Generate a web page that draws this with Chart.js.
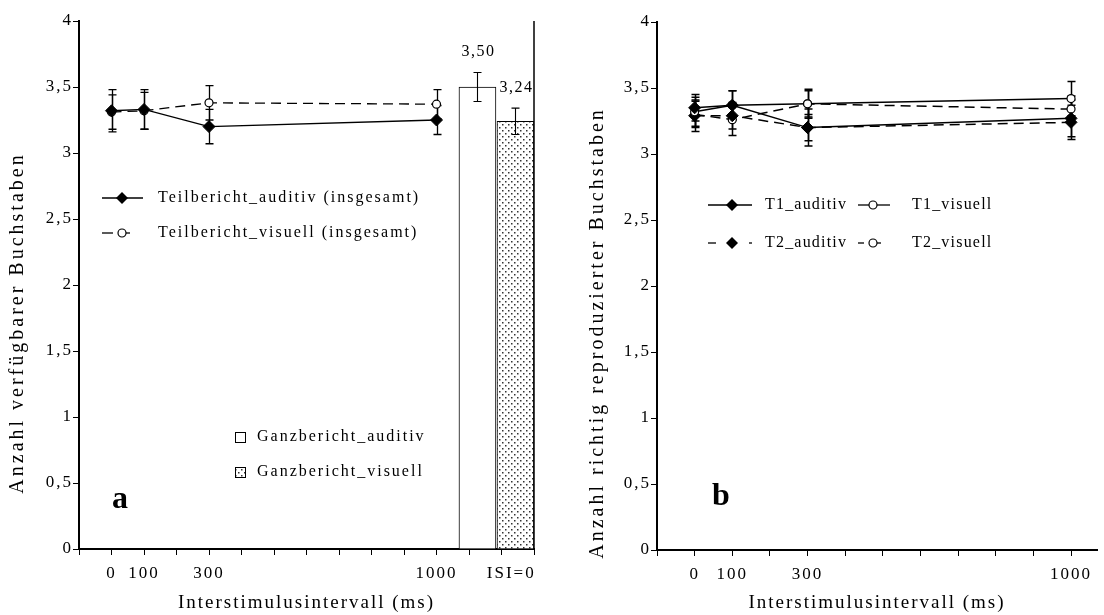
<!DOCTYPE html>
<html lang="de">
<head>
<meta charset="utf-8">
<title>Teilbericht und Ganzbericht</title>
<script src="https://cdn.jsdelivr.net/npm/chart.js@4.4.1/dist/chart.umd.min.js"></script>
<style>
  html, body { margin: 0; padding: 0; background: #fff; }
  #wrap { position: relative; width: 1104px; height: 615px; }
  .panel { position: absolute; top: 0; height: 615px; }
  #panelA { left: 0; width: 560px; }
  #panelB { left: 560px; width: 544px; }
</style>
</head>
<body>
<div id="wrap">
  <div class="panel" id="panelA"><canvas id="chartA"></canvas></div>
  <div class="panel" id="panelB"><canvas id="chartB"></canvas></div>
</div>
<script>
// Interstimulusintervalle (ms)
const isiWerte = [0, 100, 300, 1000];

// Abbildung a: Teilbericht (Linien) und Ganzbericht (Balken)
const teilAuditiv = [3.32, 3.33, 3.20, 3.25];
const teilAuditivFehler = [0.16, 0.15, 0.13, 0.11];
const teilVisuell = [3.31, 3.32, 3.38, 3.37];
const teilVisuellFehler = [0.13, 0.14, 0.13, 0.11];
const ganzLabels = ["Ganzbericht_auditiv", "Ganzbericht_visuell"];
const ganzWerte = [3.5, 3.24];
const ganzFehler = [0.11, 0.1];
const ganzX = [1126, 1243]; // Lage der ISI=0-Balken auf der x-Achse

// Abbildung b: T1 / T2
const t1Auditiv = [3.35, 3.37, 3.2, 3.27];
const t1AuditivFehler = [0.1, 0.11, 0.14, 0.14];
const t1Visuell = [3.32, 3.37, 3.38, 3.42];
const t1VisuellFehler = [0.11, 0.11, 0.11, 0.13];
const t2Auditiv = [3.29, 3.29, 3.2, 3.24];
const t2AuditivFehler = [0.12, 0.1, 0.1, 0.13];
const t2Visuell = [3.3, 3.26, 3.38, 3.34];
const t2VisuellFehler = [0.1, 0.12, 0.1, 0.1];

// Achsenbeschriftungen
const xTickWerteA = [0, 100, 300, 1000, 1230];
const xTickLabelsA = ["0", "100", "300", "1000", "ISI=0"];
const xTickWerteB = [0, 100, 300, 1000];
const xTickLabelsB = ["0", "100", "300", "1000"];
const yTickWerte = [0, 0.5, 1, 1.5, 2, 2.5, 3, 3.5, 4];
const yTickLabels = ["0", "0,5", "1", "1,5", "2", "2,5", "3", "3,5", "4"];

Chart.defaults.font.family = '"Liberation Serif", "Times New Roman", serif';
Chart.defaults.color = "#000";

const SCHWARZ = "#000";

// Punktraster für den visuellen Ganzbericht
function punktMuster() {
  const c = document.createElement("canvas");
  c.width = 6;
  c.height = 6;
  const g = c.getContext("2d");
  g.fillStyle = "#fff";
  g.fillRect(0, 0, 6, 6);
  g.fillStyle = "#333";
  g.fillRect(1, 1, 1.5, 1.5);
  g.fillRect(4, 4, 1.5, 1.5);
  return g.createPattern(c, "repeat");
}
const muster = punktMuster();

function punkte(werte) {
  return werte.map((y, i) => ({ x: isiWerte[i], y }));
}

function raster(von, bis, extra) {
  const t = [];
  for (let v = von; v <= bis; v += 100) t.push(v);
  extra.forEach((v) => { if (!t.includes(v)) t.push(v); });
  return t.sort((a, b) => a - b);
}

// breite Schrift wie im Original
const sperrung = {
  id: "sperrung",
  beforeUpdate(chart) { chart.ctx.letterSpacing = "2px"; },
  beforeDraw(chart) { chart.ctx.letterSpacing = "2px"; },
};

function zeichneFehler(chart, balken) {
  const ctx = chart.ctx;
  const ys = chart.scales.y;
  chart.data.datasets.forEach((ds, di) => {
    if (!ds.fehler || (ds.type === "bar") !== balken) return;
    const meta = chart.getDatasetMeta(di);
    meta.data.forEach((el, i) => {
      const w = ds.data[i].y;
      const oben = ys.getPixelForValue(w + ds.fehler[i]);
      const unten = ys.getPixelForValue(w - ds.fehler[i]);
      const x = Math.round(el.x) + 0.5;
      ctx.save();
      ctx.strokeStyle = SCHWARZ;
      ctx.lineWidth = ds.fehlerBreite || 1.2;
      ctx.beginPath();
      ctx.moveTo(x, oben);
      ctx.lineTo(x, unten);
      ctx.moveTo(x - 4, oben);
      ctx.lineTo(x + 4, oben);
      ctx.moveTo(x - 4, unten);
      ctx.lineTo(x + 4, unten);
      ctx.stroke();
      ctx.restore();
    });
  });
}

const fehlerbalken = {
  id: "fehlerbalken",
  beforeDatasetsDraw(chart) { zeichneFehler(chart, false); },
  afterDatasetsDraw(chart) { zeichneFehler(chart, true); },
};

function marker(ctx, art, x, y) {
  ctx.save();
  ctx.strokeStyle = SCHWARZ;
  ctx.setLineDash([]);
  if (art === "raute") {
    ctx.fillStyle = SCHWARZ;
    ctx.beginPath();
    ctx.moveTo(x, y - 6);
    ctx.lineTo(x + 6, y);
    ctx.lineTo(x, y + 6);
    ctx.lineTo(x - 6, y);
    ctx.closePath();
    ctx.fill();
  } else if (art === "kreis") {
    ctx.fillStyle = "#fff";
    ctx.lineWidth = 1.2;
    ctx.beginPath();
    ctx.arc(x, y, 4, 0, Math.PI * 2);
    ctx.fill();
    ctx.stroke();
  } else {
    ctx.fillStyle = art === "muster" ? muster : "#fff";
    ctx.lineWidth = 1;
    ctx.fillRect(x - 5, y - 5, 10, 10);
    ctx.strokeRect(x - 5 + 0.5, y - 5 + 0.5, 10, 10);
  }
  ctx.restore();
}

// eigene Legende, Achsentitel, Kennbuchstabe, Werte über den Balken
const beschriftung = {
  id: "beschriftung",
  afterDraw(chart, args, opts) {
    const ctx = chart.ctx;
    ctx.save();
    ctx.fillStyle = SCHWARZ;
    ctx.strokeStyle = SCHWARZ;

    (opts.legende || []).forEach((e) => {
      ctx.lineWidth = 1.3;
      ctx.setLineDash([]);
      (e.linien || []).forEach(([a, b]) => {
        ctx.beginPath();
        ctx.moveTo(a, e.y);
        ctx.lineTo(b, e.y);
        ctx.stroke();
      });
      marker(ctx, e.marker, e.mx, e.y);
      ctx.font = '16px "Liberation Serif"';
      ctx.letterSpacing = opts.legendeSperrung;
      ctx.textAlign = "left";
      ctx.textBaseline = "middle";
      ctx.fillText(e.text, e.tx, e.y);
    });

    // y-Achsentitel
    const t = opts.yTitel;
    ctx.save();
    ctx.font = '20px "Liberation Serif"';
    ctx.letterSpacing = "3px";
    ctx.translate(t.x, t.y);
    ctx.rotate(-Math.PI / 2);
    ctx.textAlign = "center";
    ctx.textBaseline = "middle";
    ctx.fillText(t.text, 0, 0);
    ctx.restore();

    // Kennbuchstabe
    ctx.font = 'bold 32px "Liberation Serif"';
    ctx.letterSpacing = "0px";
    ctx.textAlign = "left";
    ctx.textBaseline = "alphabetic";
    ctx.fillText(opts.buchstabe.text, opts.buchstabe.x, opts.buchstabe.y);

    // Balkenwerte
    if (opts.balkenWerte) {
      const ys = chart.scales.y;
      chart.data.datasets.forEach((ds, di) => {
        if (ds.type !== "bar") return;
        chart.getDatasetMeta(di).data.forEach((el, i) => {
          const w = ds.data[i].y;
          const oben = ys.getPixelForValue(w + ds.fehler[i]);
          ctx.font = '16px "Liberation Serif"';
          ctx.letterSpacing = "1.5px";
          ctx.textAlign = "center";
          ctx.textBaseline = "alphabetic";
          ctx.fillText(w.toFixed(2).replace(".", ","), el.x + 1, oben - 16);
        });
      });
    }

    // rechte Begrenzung
    if (opts.rahmenRechts) {
      const a = chart.chartArea;
      ctx.lineWidth = 1.5;
      ctx.beginPath();
      ctx.moveTo(a.right, a.top);
      ctx.lineTo(a.right, a.bottom);
      ctx.stroke();
    }
    ctx.restore();
  },
};

function achsen(cfg) {
  return {
    x: {
      type: "linear",
      offset: false,
      min: -100,
      max: cfg.xMax,
      afterBuildTicks: (s) => { s.ticks = raster(-100, cfg.xRasterEnde, cfg.xWerte).map((v) => ({ value: v })); },
      afterFit: (s) => {
        s.height = cfg.xHoehe;
        s.paddingLeft = 0;
        s.paddingRight = 0;
      },
      grid: {
        offset: false,
        drawOnChartArea: false,
        drawTicks: true,
        tickLength: 6,
        lineWidth: 1,
        color: (c) => (c.tick && cfg.xWerte.includes(c.tick.value) && c.tick.value % 100 !== 0 ? "rgba(0,0,0,0)" : SCHWARZ),
      },
      border: { display: true, color: SCHWARZ, width: 2 },
      ticks: {
        autoSkip: false,
        maxRotation: 0,
        padding: 8,
        font: { size: 17 },
        color: SCHWARZ,
        callback: (v) => {
          const k = cfg.xWerte.indexOf(v);
          return k < 0 ? "" : cfg.xLabels[k];
        },
      },
      title: {
        display: true,
        text: "Interstimulusintervall (ms)",
        font: { size: 19 },
        color: SCHWARZ,
        padding: { top: 0, bottom: 1 },
      },
    },
    y: {
      min: 0,
      max: 4,
      afterBuildTicks: (s) => { s.ticks = yTickWerte.map((v) => ({ value: v })); },
      afterFit: (s) => {
        s.width = cfg.yBreite;
        s.paddingTop = 0;
        s.paddingBottom = 0;
      },
      grid: { drawOnChartArea: false, drawTicks: true, tickLength: 6, lineWidth: 1, color: SCHWARZ },
      border: { display: true, color: SCHWARZ, width: 2 },
      ticks: {
        padding: 0,
        font: { size: 17 },
        color: SCHWARZ,
        callback: (v) => yTickLabels[yTickWerte.indexOf(v)],
      },
    },
  };
}

function linie(label, werte, fehler, gestrichelt, punktArt, breite) {
  const raute = punktArt === "raute";
  return {
    type: "line",
    label,
    data: punkte(werte),
    fehler,
    fehlerBreite: breite,
    borderColor: SCHWARZ,
    borderWidth: breite,
    borderDash: gestrichelt ? [10, 6] : [],
    tension: 0,
    fill: false,
    pointStyle: raute ? "rectRot" : "circle",
    pointRadius: raute ? 6 : 4,
    pointBorderWidth: raute ? 1 : 1.2,
    pointBackgroundColor: raute ? SCHWARZ : "#fff",
    pointBorderColor: SCHWARZ,
  };
}

const basisOptionen = {
  responsive: true,
  maintainAspectRatio: false,
  animation: false,
  events: [],
  plugins: { legend: { display: false }, tooltip: { enabled: false } },
};

// Abbildung a
new Chart(document.getElementById("chartA"), {
  type: "line",
  data: {
    datasets: [
      linie("Teilbericht_auditiv (insgesamt)", teilAuditiv, teilAuditivFehler, false, "raute", 1.3),
      linie("Teilbericht_visuell (insgesamt)", teilVisuell, teilVisuellFehler, true, "kreis", 1.3),
      {
        type: "bar",
        label: "Ganzbericht",
        data: ganzWerte.map((y, i) => ({ x: ganzX[i], y })),
        fehler: ganzFehler,
        fehlerBreite: 1.1,
        backgroundColor: ["#fff", muster],
        borderColor: SCHWARZ,
        borderWidth: 1,
        barThickness: 37,
        grouped: false,
      },
    ],
  },
  options: {
    ...basisOptionen,
    layout: { padding: { top: 21, right: 26, left: 0, bottom: 0 } },
    scales: achsen({ xMax: 1300, xRasterEnde: 1300, xWerte: xTickWerteA, xLabels: xTickLabelsA, xHoehe: 66, yBreite: 79 }),
    plugins: {
      ...basisOptionen.plugins,
      beschriftung: {
        legendeSperrung: "2px",
        legende: [
          { y: 198, linien: [[102, 143]], marker: "raute", mx: 122, tx: 158, text: "Teilbericht_auditiv (insgesamt)" },
          { y: 233, linien: [[102, 113], [126, 130]], marker: "kreis", mx: 122, tx: 158, text: "Teilbericht_visuell (insgesamt)" },
          { y: 437, marker: "quadrat", mx: 240, tx: 257, text: ganzLabels[0] },
          { y: 472, marker: "muster", mx: 240, tx: 257, text: ganzLabels[1] },
        ],
        yTitel: { x: 18, y: 323, text: "Anzahl verfügbarer Buchstaben" },
        buchstabe: { text: "a", x: 112, y: 508 },
        balkenWerte: true,
        rahmenRechts: true,
      },
    },
  },
  plugins: [sperrung, fehlerbalken, beschriftung],
});

// Abbildung b
new Chart(document.getElementById("chartB"), {
  type: "line",
  data: {
    datasets: [
      linie("T1_auditiv", t1Auditiv, t1AuditivFehler, false, "raute", 1.5),
      linie("T1_visuell", t1Visuell, t1VisuellFehler, false, "kreis", 1.5),
      linie("T2_auditiv", t2Auditiv, t2AuditivFehler, true, "raute", 1.5),
      linie("T2_visuell", t2Visuell, t2VisuellFehler, true, "kreis", 1.5),
    ],
  },
  options: {
    ...basisOptionen,
    layout: { padding: { top: 22, right: 1, left: 0, bottom: 0 } },
    scales: achsen({ xMax: 1069, xRasterEnde: 1000, xWerte: xTickWerteB, xLabels: xTickLabelsB, xHoehe: 65, yBreite: 97 }),
    plugins: {
      ...basisOptionen.plugins,
      beschriftung: {
        legendeSperrung: "1.2px",
        legende: [
          { y: 205, linien: [[148, 192]], marker: "raute", mx: 172, tx: 205, text: "T1_auditiv" },
          { y: 205, linien: [[298, 330]], marker: "kreis", mx: 313, tx: 352, text: "T1_visuell" },
          { y: 243, linien: [[148, 156], [189, 192]], marker: "raute", mx: 172, tx: 205, text: "T2_auditiv" },
          { y: 243, linien: [[298, 304], [317, 321]], marker: "kreis", mx: 313, tx: 352, text: "T2_visuell" },
        ],
        yTitel: { x: 38, y: 333, text: "Anzahl richtig reproduzierter Buchstaben" },
        buchstabe: { text: "b", x: 152, y: 505 },
      },
    },
  },
  plugins: [sperrung, fehlerbalken, beschriftung],
});
</script>
</body>
</html>
